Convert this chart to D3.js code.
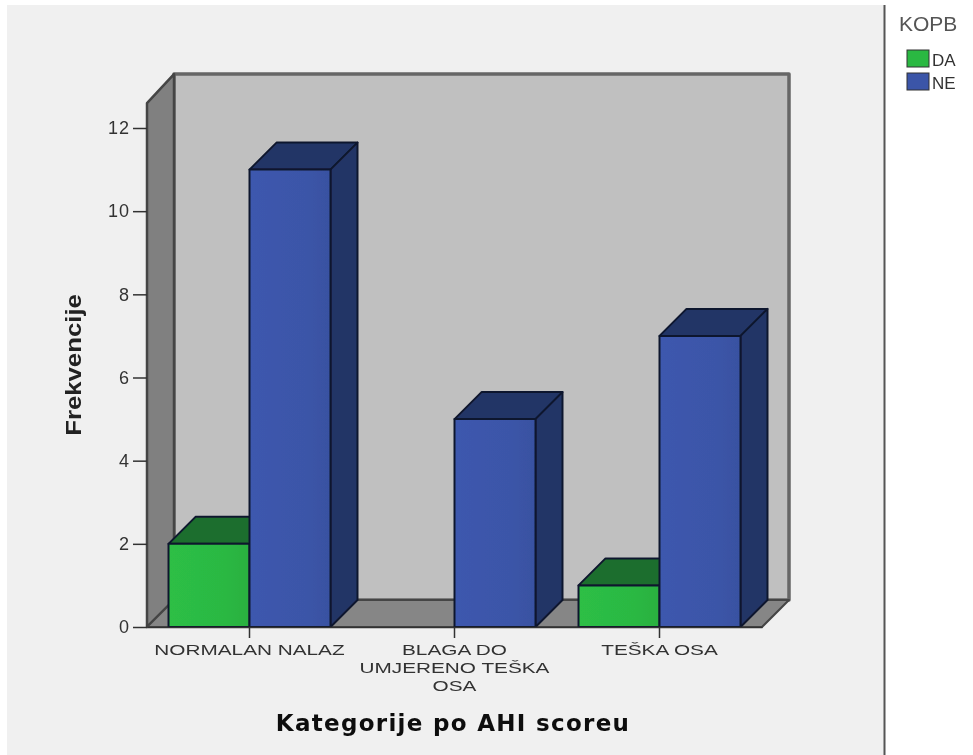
<!DOCTYPE html>
<html><head><meta charset="utf-8">
<script src="https://cdn.jsdelivr.net/npm/d3@7"></script>
<style>html,body{margin:0;padding:0;background:#fff}svg{display:block}</style>
</head><body><div id="c"></div>
<script>
const categories = ["NORMALAN NALAZ", "BLAGA DO UMJERENO TEŠKA OSA", "TEŠKA OSA"];
const categoryLines = [["NORMALAN NALAZ"], ["BLAGA DO", "UMJERENO TEŠKA", "OSA"], ["TEŠKA OSA"]];
const seriesNames = ["DA", "NE"];
const daValues = [2, 0, 1];
const neValues = [11, 5, 7];
const yTicks = [0, 2, 4, 6, 8, 10, 12];
const frontColors = {DA: "#2bb843", NE: "#3b55a8"};
const sideColors = {DA: "#1d6e2d", NE: "#233466"};

const W = 973, H = 755, depth = 27;
const svg = d3.select("#c").append("svg").attr("width", W).attr("height", H);
const defs = svg.append("defs");
const blur = defs.append("filter").attr("id", "soft").attr("x", "-5%").attr("y", "-5%").attr("width", "110%").attr("height", "110%");
blur.append("feGaussianBlur").attr("stdDeviation", 0.7);
seriesNames.forEach(s => {
  const g = defs.append("linearGradient").attr("id", "grad" + s);
  const c = d3.color(frontColors[s]);
  g.append("stop").attr("offset", 0).attr("stop-color", c.brighter(0.1));
  g.append("stop").attr("offset", 0.7).attr("stop-color", c);
  g.append("stop").attr("offset", 1).attr("stop-color", c.darker(0.12));
});
const root = svg.append("g").attr("filter", "url(#soft)");

root.append("rect").attr("x", 7).attr("y", 5).attr("width", 877).attr("height", 750).attr("fill", "#f0f0f0");
root.append("line").attr("x1", 884.5).attr("x2", 884.5).attr("y1", 5).attr("y2", 755).attr("stroke", "#555").attr("stroke-width", 2);

const x = d3.scaleBand().domain(categories).range([147, 762]).paddingInner(0).paddingOuter(0);
const x1 = d3.scaleBand().domain(seriesNames).range([x.bandwidth() / 2 - 81, x.bandwidth() / 2 + 81]);
const y = d3.scaleLinear().domain([0, 12]).range([627, 128]);
const yTop = y(12.6);
const x0 = x.range()[0], xR = x.range()[1], y0 = y(0);
const pts = a => a.map(p => p.join(",")).join(" ");

// walls and floor
const walls = root.append("g").attr("stroke-linejoin", "round");
walls.append("polygon").attr("points", pts([[x0 + depth, yTop - depth - 2], [xR + depth, yTop - depth - 2], [xR + depth, y0 - depth], [x0 + depth, y0 - depth]]))
  .attr("fill", "#c0c0c0").attr("stroke", "#666").attr("stroke-width", 3.5);
walls.append("polygon").attr("points", pts([[x0, yTop], [x0 + depth, yTop - depth - 2], [x0 + depth, y0 - depth], [x0, y0]]))
  .attr("fill", "#808080").attr("stroke", "#444").attr("stroke-width", 2.5);
walls.append("polygon").attr("points", pts([[x0, y0], [x0 + depth, y0 - depth], [xR + depth, y0 - depth], [xR, y0]]))
  .attr("fill", "#868686").attr("stroke", "#444").attr("stroke-width", 2);

// bars
const values = {DA: daValues, NE: neValues};
const rows = [];
categories.forEach((c, i) => seriesNames.forEach(s => { if (values[s][i] > 0) rows.push({c, s, v: values[s][i]}); }));
const bars = root.append("g").selectAll("g").data(rows).join("g")
  .attr("stroke", "#10182e").attr("stroke-width", 2).attr("stroke-linejoin", "round");
bars.each(function(d) {
  const g = d3.select(this);
  const l = x(d.c) + x1(d.s), r = l + x1.bandwidth(), t = y(d.v), b = y0;
  g.append("polygon").attr("points", pts([[l, t], [l + depth, t - depth], [r + depth, t - depth], [r, t]])).attr("fill", sideColors[d.s]);
  g.append("polygon").attr("points", pts([[r, t], [r + depth, t - depth], [r + depth, b - depth], [r, b]])).attr("fill", sideColors[d.s]);
  g.append("rect").attr("x", l).attr("y", t).attr("width", r - l).attr("height", b - t).attr("fill", "url(#grad" + d.s + ")");
});

// axes
const yAxis = d3.axisLeft(y).tickValues(yTicks).tickSize(14).tickPadding(3).tickFormat(d3.format("d"));
const gy = root.append("g").attr("transform", `translate(${x0},0)`).call(yAxis);
gy.select(".domain").remove();
gy.selectAll("line").attr("stroke", "#333").attr("stroke-width", 1.5);
gy.selectAll("text").attr("font-family", "Liberation Sans").attr("font-size", 18).attr("letter-spacing", 1).attr("fill", "#333");

const xAxis = d3.axisBottom(x).tickSize(11).tickSizeOuter(0).tickFormat("");
const gx = root.append("g").attr("transform", `translate(0,${y0})`).call(xAxis);
gx.select(".domain").attr("stroke", "#333").attr("stroke-width", 1.5);
gx.selectAll("line").attr("stroke", "#333").attr("stroke-width", 1.5);
gx.selectAll(".tick").each(function(d, i) {
  const t = d3.select(this).append("text").attr("text-anchor", "middle").attr("font-family", "Liberation Sans")
    .attr("font-size", 15.5).attr("fill", "#333").attr("transform", "scale(1.34,1)");
  categoryLines[i].forEach((line, k) => t.append("tspan").attr("x", 0).attr("y", 28 + k * 18).text(line));
});

// titles
root.append("text").attr("x", 453).attr("y", 731).attr("text-anchor", "middle").attr("font-family", "DejaVu Sans")
  .attr("font-weight", "bold").attr("font-size", 23).attr("letter-spacing", 1.3).attr("fill", "#111").text("Kategorije po AHI scoreu");
root.append("text").attr("transform", "translate(81,365) rotate(-90) scale(1.12,1)").attr("text-anchor", "middle").attr("font-family", "Liberation Sans")
  .attr("font-weight", "bold").attr("font-size", 23).attr("fill", "#222").text("Frekvencije");

// legend
root.append("text").attr("x", 899).attr("y", 31).attr("font-family", "Liberation Sans").attr("font-size", 21).attr("fill", "#555").text("KOPB");
const leg = d3.scaleBand().domain(seriesNames).range([50, 96]);
const li = root.append("g").selectAll("g").data(seriesNames).join("g").attr("transform", d => `translate(907,${leg(d)})`);
li.append("rect").attr("width", 22).attr("height", leg.bandwidth() - 6).attr("fill", d => frontColors[d]).attr("stroke", "#333").attr("stroke-width", 1);
li.append("text").attr("x", 25).attr("y", 15.5).attr("font-family", "Liberation Sans").attr("font-size", 17).attr("fill", "#333").text(d => d);
</script></body></html>
